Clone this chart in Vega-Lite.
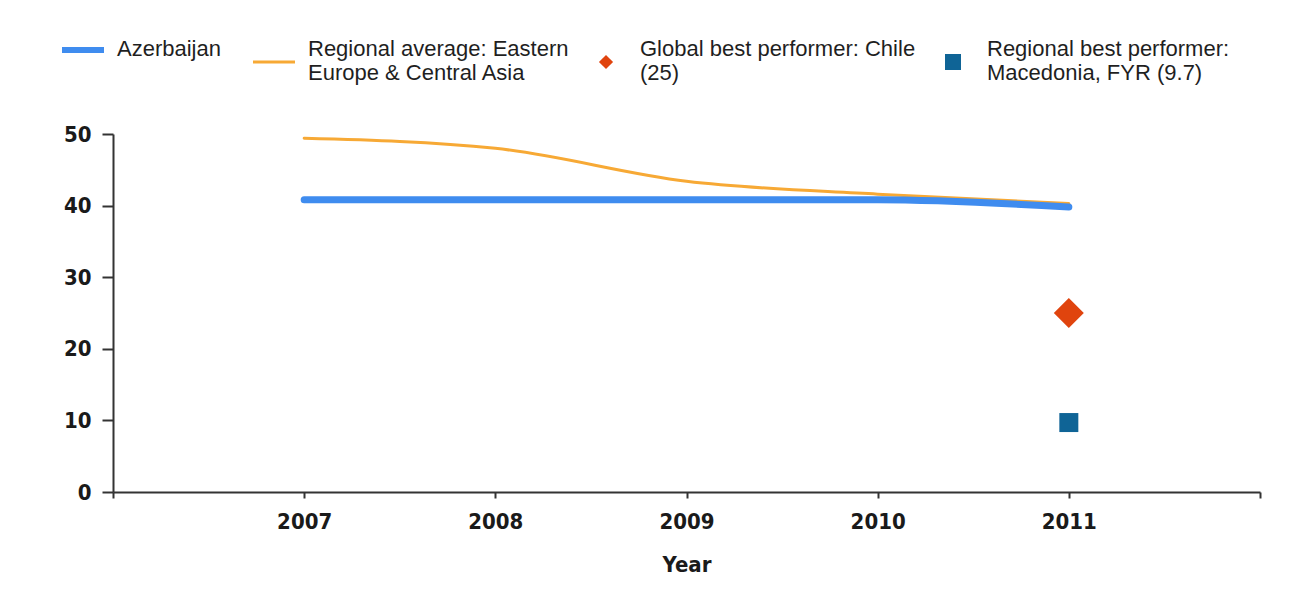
{
  "$schema": "https://vega.github.io/schema/vega-lite/v6.json",
  "width": 1147,
  "height": 358,
  "autosize": {"type": "none"},
  "padding": {"left": 113, "top": 134, "right": 42, "bottom": 112},
  "background": "white",
  "config": {"view": {"stroke": null}, "font": "Liberation Sans"},
  "data": {
    "values": [
      {"year": 2007, "value": 49.4, "series": "Regional average: Eastern Europe & Central Asia"},
      {"year": 2008, "value": 48.0, "series": "Regional average: Eastern Europe & Central Asia"},
      {"year": 2009, "value": 43.4, "series": "Regional average: Eastern Europe & Central Asia"},
      {"year": 2010, "value": 41.6, "series": "Regional average: Eastern Europe & Central Asia"},
      {"year": 2011, "value": 40.3, "series": "Regional average: Eastern Europe & Central Asia"},
      {"year": 2007, "value": 40.8, "series": "Azerbaijan"},
      {"year": 2008, "value": 40.8, "series": "Azerbaijan"},
      {"year": 2009, "value": 40.8, "series": "Azerbaijan"},
      {"year": 2010, "value": 40.8, "series": "Azerbaijan"},
      {"year": 2011, "value": 39.8, "series": "Azerbaijan"},
      {"year": 2011, "value": 25, "series": "Global best performer: Chile (25)"},
      {"year": 2011, "value": 9.7, "series": "Regional best performer: Macedonia, FYR (9.7)"}
    ]
  },
  "encoding": {
    "x": {
      "field": "year",
      "type": "quantitative",
      "scale": {"domain": [2006, 2012], "nice": false, "zero": false},
      "axis": {
        "values": [2006, 2007, 2008, 2009, 2010, 2011, 2012],
        "format": "d",
        "labelExpr": "datum.value == 2006 || datum.value == 2012 ? '' : datum.label",
        "title": "Year",
        "grid": false,
        "domainColor": "#333333",
        "domainWidth": 2,
        "tickColor": "#333333",
        "tickWidth": 2,
        "tickSize": 6,
        "labelFont": "DejaVu Sans Condensed",
        "labelFontWeight": "bold",
        "labelFontSize": 22,
        "labelColor": "#1a1a1a",
        "labelPadding": 13,
        "labelFlush": false,
        "titleFont": "DejaVu Sans Condensed",
        "titleFontWeight": "bold",
        "titleFontSize": 22,
        "titleColor": "#1a1a1a",
        "titlePadding": 22
      }
    },
    "y": {
      "field": "value",
      "type": "quantitative",
      "scale": {"domain": [0, 50], "nice": false},
      "axis": {
        "values": [0, 10, 20, 30, 40, 50],
        "title": null,
        "grid": false,
        "domainColor": "#333333",
        "domainWidth": 2,
        "tickColor": "#333333",
        "tickWidth": 2,
        "tickSize": 11,
        "labelFont": "DejaVu Sans Condensed",
        "labelFontWeight": "bold",
        "labelFontSize": 22,
        "labelColor": "#1a1a1a",
        "labelPadding": 11,
        "labelFlush": false
      }
    },
    "color": {
      "field": "series",
      "type": "nominal",
      "scale": {
        "domain": ["Azerbaijan", "Regional average: Eastern Europe & Central Asia", "Global best performer: Chile (25)", "Regional best performer: Macedonia, FYR (9.7)"],
        "range": ["#3f8cef", "#f7a935", "#e0440e", "#0f6496"]
      },
      "legend": {
        "orient": "none",
        "legendX": -41,
        "legendY": -96,
        "direction": "horizontal",
        "columns": 4,
        "title": null,
        "padding": 0,
        "columnPadding": 26,
        "symbolSize": 1764,
        "symbolType": "stroke",
        "labelOffset": 23,
        "labelFont": "Liberation Sans",
        "labelFontSize": 22,
        "labelColor": "#1f1f1f",
        "labelLimit": 400,
        "labelExpr": "datum.label == 'Azerbaijan' ? ['Azerbaijan', ' '] : datum.label == 'Regional average: Eastern Europe & Central Asia' ? ['Regional average: Eastern', 'Europe & Central Asia'] : datum.label == 'Global best performer: Chile (25)' ? ['Global best performer: Chile', '(25)'] : ['Regional best performer:', 'Macedonia, FYR (9.7)']",
        "encode": {
          "labels": {"update": {"lineHeight": {"value": 24}}},
          "symbols": {
            "update": {
              "y": {"signal": "datum.value == 'Azerbaijan' ? 12 : 24"},
              "size": {"signal": "datum.value == 'Azerbaijan' || datum.value == 'Regional average: Eastern Europe & Central Asia' ? 1764 : datum.value == 'Global best performer: Chile (25)' ? 200 : 256"},
              "fill": {"signal": "datum.value == 'Azerbaijan' || datum.value == 'Regional average: Eastern Europe & Central Asia' ? 'transparent' : scale('color', datum.value)"},
              "stroke": {"signal": "scale('color', datum.value)"},
              "strokeWidth": {"signal": "datum.value == 'Azerbaijan' ? 6 : datum.value == 'Regional average: Eastern Europe & Central Asia' ? 3 : 0"},
              "opacity": {"value": 1}
            }
          }
        }
      }
    }
  },
  "layer": [
    {
      "transform": [{"filter": "datum.series == 'Regional average: Eastern Europe & Central Asia'"}],
      "mark": {"type": "line", "interpolate": "monotone", "strokeWidth": 3, "strokeCap": "round"}
    },
    {
      "transform": [{"filter": "datum.series == 'Azerbaijan'"}],
      "mark": {"type": "line", "interpolate": "monotone", "strokeWidth": 7, "strokeCap": "round"}
    },
    {
      "transform": [{"filter": "datum.series == 'Global best performer: Chile (25)' || datum.series == 'Regional best performer: Macedonia, FYR (9.7)'"}],
      "mark": {"type": "point", "filled": true, "opacity": 1, "strokeWidth": 0},
      "encoding": {
        "shape": {
          "field": "series",
          "type": "nominal",
          "scale": {
            "domain": ["Azerbaijan", "Regional average: Eastern Europe & Central Asia", "Global best performer: Chile (25)", "Regional best performer: Macedonia, FYR (9.7)"],
            "range": ["stroke", "stroke", "diamond", "square"]
          }
        },
        "size": {
          "field": "series",
          "type": "nominal",
          "scale": {
            "domain": ["Global best performer: Chile (25)", "Regional best performer: Macedonia, FYR (9.7)"],
            "range": [900, 361]
          },
          "legend": null
        }
      }
    }
  ]
}
